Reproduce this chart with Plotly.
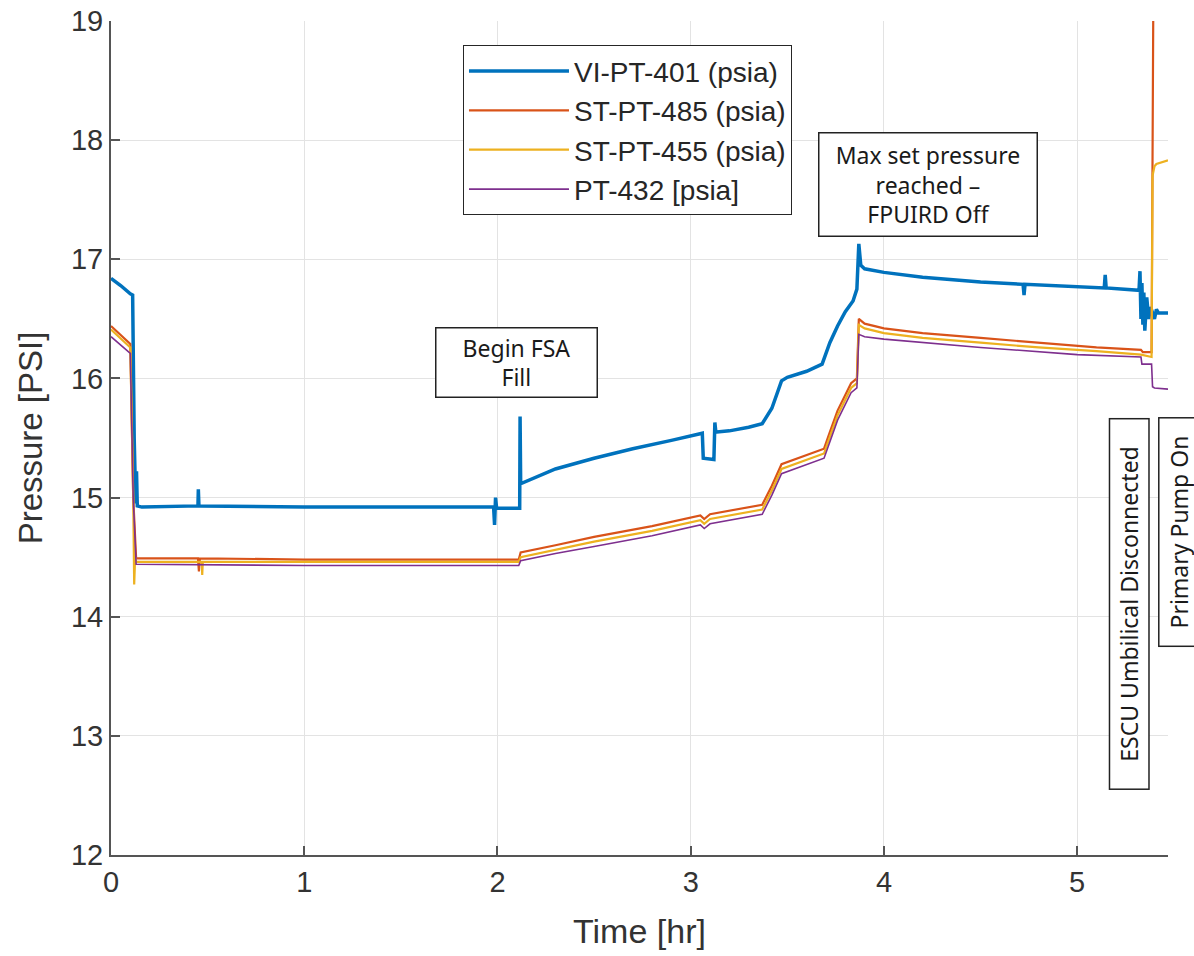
import plotly.graph_objects as go

# ---- data ----
t_vi = [0, 0.05, 0.10, 0.112, 0.12, 0.128, 0.132, 0.136, 0.16, 0.45, 0.452, 0.455, 0.46, 1.0, 1.5,
        1.98, 1.985, 1.99, 1.995, 2.0, 2.115, 2.117, 2.12, 2.125, 2.2, 2.3, 2.5, 2.7, 2.9, 3.06,
        3.065, 3.12, 3.125, 3.13, 3.135, 3.2, 3.3, 3.37, 3.42, 3.47, 3.5, 3.6, 3.68, 3.72, 3.76,
        3.8, 3.84, 3.86, 3.87, 3.88, 3.9, 4.0, 4.2, 4.5, 4.72, 4.725, 4.73, 5.0, 5.14, 5.145, 5.15,
        5.32, 5.325, 5.33, 5.335, 5.34, 5.345, 5.35, 5.36, 5.37, 5.38, 5.39, 5.40, 5.41, 5.42, 5.47]
p_vi = [16.84, 16.78, 16.71, 16.70, 15.50, 14.95, 15.22, 14.93, 14.92, 14.93, 15.07, 14.93, 14.93, 14.92, 14.92,
        14.92, 14.77, 15.00, 14.92, 14.91, 14.91, 15.68, 15.12, 15.12, 15.17, 15.24, 15.33, 15.41, 15.48, 15.54,
        15.33, 15.32, 15.63, 15.55, 15.55, 15.56, 15.59, 15.62, 15.75, 15.98, 16.01, 16.06, 16.12, 16.30, 16.44,
        16.56, 16.65, 16.75, 17.13, 16.95, 16.92, 16.89, 16.85, 16.81, 16.79, 16.70, 16.79, 16.77, 16.76, 16.87, 16.76,
        16.74, 16.90, 16.50, 16.80, 16.45, 16.72, 16.40, 16.68, 16.50, 16.60, 16.55, 16.50, 16.58, 16.55, 16.55]

t_485 = [0, 0.10, 0.115, 0.13, 0.45, 0.455, 0.46, 1.0, 2.11, 2.12, 2.3, 2.5, 2.8, 3.05, 3.07, 3.1,
         3.37, 3.42, 3.47, 3.69, 3.72, 3.76, 3.83, 3.86, 3.87, 3.9, 4.0, 4.2, 4.5, 4.8, 5.1, 5.33,
         5.34, 5.385, 5.39, 5.395]
p_485 = [16.44, 16.29, 15.00, 14.49, 14.49, 14.38, 14.49, 14.48, 14.48, 14.54, 14.60, 14.67, 14.76, 14.85, 14.82, 14.86,
         14.94, 15.10, 15.28, 15.41, 15.55, 15.73, 15.96, 16.00, 16.50, 16.46, 16.42, 16.38, 16.34, 16.30, 16.26, 16.24,
         16.22, 16.22, 17.50, 19.50]

t_455 = [0, 0.10, 0.115, 0.12, 0.125, 0.13, 0.47, 0.472, 0.475, 1.0, 2.11, 2.12, 2.3, 2.5, 2.8, 3.05, 3.07, 3.1,
         3.37, 3.42, 3.47, 3.69, 3.72, 3.76, 3.83, 3.86, 3.87, 3.9, 4.0, 4.2, 4.5, 4.8, 5.1, 5.33,
         5.385, 5.39, 5.40, 5.41, 5.47]
p_455 = [16.41, 16.26, 15.00, 14.27, 14.50, 14.46, 14.46, 14.35, 14.46, 14.46, 14.46, 14.50, 14.56, 14.63, 14.72, 14.81, 14.78, 14.82,
         14.90, 15.06, 15.24, 15.37, 15.51, 15.69, 15.92, 15.96, 16.45, 16.42, 16.38, 16.34, 16.30, 16.26, 16.23, 16.20,
         16.18, 17.70, 17.78, 17.80, 17.83]

t_432 = [0, 0.10, 0.115, 0.13, 1.0, 2.11, 2.12, 2.3, 2.5, 2.8, 3.05, 3.07, 3.1,
         3.37, 3.42, 3.47, 3.69, 3.72, 3.76, 3.83, 3.86, 3.87, 3.9, 4.0, 4.5, 5.0, 5.33,
         5.335, 5.385, 5.39, 5.40, 5.47]
p_432 = [16.35, 16.21, 15.00, 14.44, 14.43, 14.43, 14.47, 14.53, 14.59, 14.68, 14.77, 14.74, 14.78,
         14.86, 15.02, 15.20, 15.33, 15.47, 15.65, 15.88, 15.92, 16.37, 16.35, 16.33, 16.26, 16.20, 16.18,
         16.12, 16.12, 15.93, 15.92, 15.91]

names = ["VI-PT-401 (psia)", "ST-PT-485 (psia)", "ST-PT-455 (psia)", "PT-432 [psia]"]
colors = ["#0072BD", "#D95319", "#EDB120", "#7E2F8E"]
widths = [3.5, 2.2, 2.2, 1.6]
series = [(t_vi, p_vi), (t_485, p_485), (t_455, p_455), (t_432, p_432)]

x_ticks = [0, 1, 2, 3, 4, 5]
y_ticks = [12, 13, 14, 15, 16, 17, 18, 19]

fig = go.Figure()
for (tx, py), nm, c, w in zip(series, names, colors, widths):
    fig.add_trace(go.Scatter(x=tx, y=py, mode="lines", name=nm,
                             line=dict(color=c, width=w)))

ann_font = dict(family="Noto Sans", size=23, color="#1a1a1a")
box = dict(bordercolor="#222222", borderwidth=1.5, bgcolor="white", showarrow=False,
           font=ann_font, xanchor="center", yanchor="middle")

fig.add_annotation(x=2.096, y=16.13, xref="x", yref="y", text="Begin FSA<br>Fill",
                   width=158, height=66, **box)
fig.add_annotation(x=4.226, y=17.63, xref="x", yref="y",
                   text="Max set pressure<br>reached \u2013<br>FPUIRD Off",
                   width=215, height=100, **box)
fig.add_annotation(x=5.27, y=14.11, xref="x", yref="y", text="ESCU Umbilical Disconnected",
                   textangle=-90, width=367, height=36, **box)
fig.add_annotation(x=1.0095, y=1 - (532 - 21) / 834, xref="paper", yref="paper",
                   text="Primary Pump On", textangle=-90, width=225, height=36, **box)

fig.update_layout(
    width=1194, height=956,
    margin=dict(l=111, r=26, t=21, b=101, autoexpand=False),
    paper_bgcolor="white", plot_bgcolor="white",
    font=dict(family="Liberation Sans", color="#262626"),
    legend=dict(x=0.333, y=0.971, xanchor="left", yanchor="top",
                bordercolor="#262626", borderwidth=1, bgcolor="white",
                font=dict(family="Liberation Sans", size=28, color="#262626"),
                itemwidth=100, tracegroupgap=0),
    showlegend=True,
)
fig.update_xaxes(range=[0, 5.47], tickvals=x_ticks, ticktext=[str(v) for v in x_ticks],
                 showgrid=True, gridcolor="#e3e3e3", gridwidth=1, automargin=False,
                 showline=True, linecolor="#555555", linewidth=2,
                 ticks="inside", ticklen=9, tickcolor="#555555", tickwidth=1.5,
                 tickfont=dict(size=29, color="#333333"), zeroline=False,
                 title=dict(text="Time [hr]", font=dict(size=34, color="#333333"), standoff=22))
fig.update_yaxes(range=[12, 19], tickvals=y_ticks, ticktext=[str(v) for v in y_ticks],
                 showgrid=True, gridcolor="#e3e3e3", gridwidth=1, automargin=False,
                 showline=True, linecolor="#555555", linewidth=2,
                 ticks="inside", ticklen=9, tickcolor="#555555", tickwidth=1.5,
                 tickfont=dict(size=29, color="#333333"), zeroline=False,
                 title=dict(text="Pressure [PSI]", font=dict(size=33, color="#333333"), standoff=18))

fig.write_html("out.html", config={"displayModeBar": False},
               post_script="document.body.style.margin='0';document.body.style.overflow='hidden';")
